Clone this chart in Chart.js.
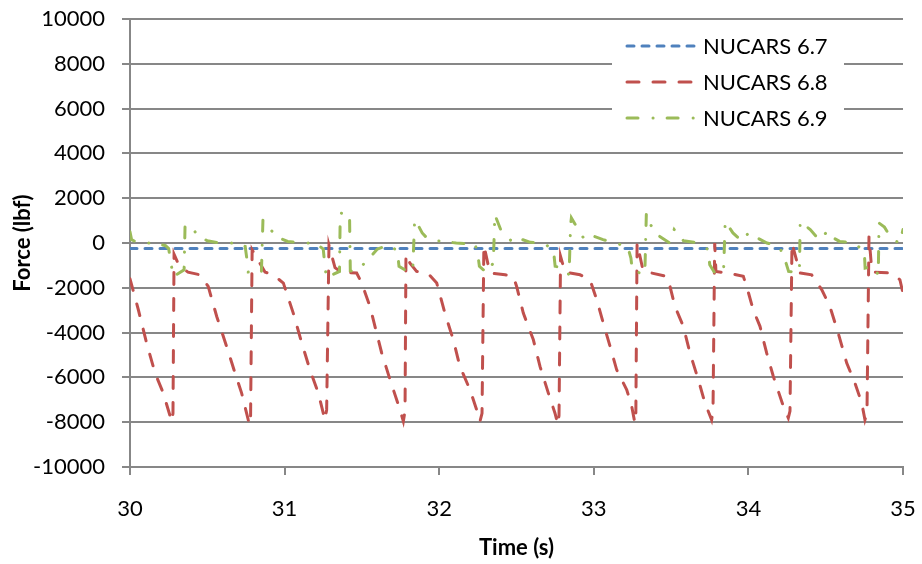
<!DOCTYPE html>
<html>
<head>
<meta charset="utf-8">
<script src="https://cdn.jsdelivr.net/npm/chart.js@4/dist/chart.umd.min.js"></script>
<style>
  html, body { margin: 0; padding: 0; background: #fff; }
  #wrap { width: 922px; height: 564px; }
</style>
</head>
<body>
<div id="wrap"><canvas id="grafico" width="922" height="564"></canvas></div>
<script>
// series names
const nomes = ['NUCARS 6.7', 'NUCARS 6.8', 'NUCARS 6.9'];

// NUCARS 6.7 - practically constant
const azul_t = [30, 35];
const azul_v = [-250, -250];

// NUCARS 6.8 - saw tooth, one line per cycle
const verm_t = [
  30.000, 30.054, 30.108, 30.162, 30.215, 30.270,
  30.278, 30.285, 30.317, 30.375, 30.453, 30.506, 30.561, 30.625, 30.679, 30.722, 30.765, 30.774,
  30.780, 30.790, 30.873, 30.927, 30.992, 31.056, 31.111, 31.164, 31.218, 31.261,
  31.272, 31.287, 31.326, 31.369, 31.466, 31.499, 31.552, 31.628, 31.682, 31.746, 31.768,
  31.779, 31.785, 31.811, 31.854, 31.929, 31.984, 32.037, 32.091, 32.134, 32.199, 32.242, 32.264,
  32.277, 32.289, 32.328, 32.426, 32.479, 32.501, 32.544, 32.609, 32.652, 32.706, 32.749, 32.768,
  32.775, 32.785, 32.814, 32.911, 32.975, 33.019, 33.061, 33.105, 33.148, 33.213, 33.245, 33.266,
  33.272, 33.280, 33.320, 33.374, 33.471, 33.493, 33.525, 33.579, 33.622, 33.676, 33.719, 33.762,
  33.771, 33.782, 33.790, 33.866, 33.967, 33.989, 34.031, 34.075, 34.118, 34.161, 34.226, 34.258,
  34.269, 34.282, 34.333, 34.409, 34.474, 34.527, 34.581, 34.636, 34.689, 34.733, 34.754,
  34.767, 34.780, 34.799, 34.927, 34.980, 35.000
];
const verm_v = [
  -1600, -2980, -4480, -5800, -6700, -7970,
  -7600, -500, -1000, -1300, -1420, -1940, -3280, -4620, -5800, -6700, -7900, -8120,
  -7700, -300, -1300, -1420, -1790, -3130, -4460, -5660, -6700, -7900,
  -7450, -100, -1100, -1300, -1340, -1790, -2830, -4910, -6100, -7440, -7960,
  -7500, -500, -900, -1270, -1370, -1790, -3130, -4320, -5510, -6550, -7440, -7960,
  -7600, -100, -1340, -1420, -1490, -1940, -3130, -4320, -5510, -6700, -7600, -8110,
  -7700, -600, -1300, -1420, -1640, -2530, -3570, -4610, -5660, -6550, -7290, -8040,
  -7600, 0, -1270, -1340, -1490, -1940, -2830, -3720, -4910, -6100, -7140, -7890,
  -7500, 0, -1270, -1340, -1490, -1940, -2980, -3720, -4910, -5950, -7290, -7810,
  -7500, 0, -1340, -1420, -2080, -2830, -4020, -5360, -6250, -7140, -7890,
  -7600, 300, -1300, -1340, -1640, -2240
];

// NUCARS 6.9 - oscillation around zero
const verde_t = [
  30.000, 30.010, 30.054, 30.150, 30.230, 30.250, 30.265, 30.280, 30.350, 30.356,
  30.400, 30.430, 30.500, 30.580, 30.690, 30.745, 30.755, 30.765, 30.850, 30.860,
  30.890, 30.940, 31.020, 31.110, 31.200, 31.250, 31.260, 31.270, 31.355, 31.360,
  31.420, 31.425, 31.460, 31.530, 31.600, 31.680, 31.730, 31.740, 31.810, 31.830,
  31.840, 31.845, 31.890, 31.930, 32.020, 32.110, 32.190, 32.230, 32.250, 32.260,
  32.310, 32.350, 32.360, 32.400, 32.470, 32.510, 32.590, 32.680, 32.740, 32.750,
  32.810, 32.840, 32.850, 32.855, 32.900, 32.940, 33.000, 33.060, 33.140, 33.220,
  33.240, 33.250, 33.330, 33.340, 33.360, 33.410, 33.490, 33.520, 33.580, 33.680,
  33.740, 33.750, 33.790, 33.840, 33.850, 33.900, 33.960, 34.000, 34.060, 34.120,
  34.200, 34.240, 34.260, 34.330, 34.335, 34.400, 34.460, 34.510, 34.530, 34.590,
  34.690, 34.750, 34.755, 34.810, 34.840, 34.845, 34.880, 34.930, 34.980, 35.000
];
const verde_v = [
  500, 150, 0, 0, -120, -250, -900, -1500, -1200, 740,
  800, 370, 100, 0, 0, -150, -660, -1300, -1300, 1040,
  820, 300, 70, 0, 0, -270, -970, -1550, -1270, 1340,
  1260, -1240, -1270, -820, -270, -80, -375, -1040, -1340, -1040,
  820, 1040, 450, 150, 70, 0, -40, 0, -520, -1040,
  -1340, -880, 1260, 560, 70, 220, 30, 0, -375, -1040,
  -1120, -1420, 820, 1120, 600, 150, 300, 150, 0, -180,
  -670, -1270, -1370, 1340, 890, 370, 0, 600, 100, 0,
  -300, -970, -1420, -1120, 960, 450, 70, 450, 220, 0,
  -150, -820, -1270, -1310, 960, 600, 120, 520, 300, 70,
  0, -420, -1120, -1040, -1420, 890, 710, 150, 0, 600
];

// axes
const x_min = 30, x_max = 35, x_passo = 1;
const y_min = -10000, y_max = 10000, y_passo = 2000;

function pontos(ts, vs) {
    return ts.map(function(t, i) { return { x: t, y: vs[i] }; });
}

const cor_grade = '#878787';
const fonte = 'Lato, Carlito, "Noto Sans", sans-serif';

// legend drawn by hand (white box over the grid lines)
const legenda_excel = {
    id: 'legenda_excel',
    afterDraw(chart) {
        const ctx = chart.ctx;
        ctx.save();
        ctx.fillStyle = '#ffffff';
        ctx.fillRect(612, 28, 232, 106);
        const linhas_y = [46, 82, 118];
        chart.data.datasets.forEach(function(ds, i) {
            const y = linhas_y[i];
            ctx.beginPath();
            ctx.strokeStyle = ds.borderColor;
            ctx.lineWidth = ds.borderWidth;
            ctx.lineCap = 'round';
            ctx.setLineDash(ds.borderDash);
            ctx.moveTo(627, y);
            ctx.lineTo(694, y);
            ctx.stroke();
            ctx.setLineDash([]);
            ctx.fillStyle = '#000';
            ctx.font = '22px ' + fonte;
            ctx.textBaseline = 'middle';
            ctx.textAlign = 'left';
            ctx.fillText(ds.label, 703, y + 1);
        });
        ctx.restore();
    }
};

const dados = {
    datasets: [
        {
            label: nomes[0],
            data: pontos(azul_t, azul_v),
            borderColor: '#4F81BD',
            borderWidth: 3,
            borderDash: [7, 8],
            borderCapStyle: 'round',
            order: 3
        },
        {
            label: nomes[1],
            data: pontos(verm_t, verm_v),
            borderColor: '#C0504D',
            borderWidth: 3,
            borderDash: [12, 14],
            borderCapStyle: 'round',
            order: 2
        },
        {
            label: nomes[2],
            data: pontos(verde_t, verde_v),
            borderColor: '#9BBB59',
            borderWidth: 3,
            borderDash: [11, 15, 0.1, 14],
            borderCapStyle: 'round',
            order: 1
        }
    ]
};

const opcoes = {
    responsive: false,
    animation: false,
    devicePixelRatio: 1,
    layout: { padding: { top: 19, right: 19, left: 0, bottom: 0 } },
    elements: {
        point: { radius: 0 },
        line: { tension: 0, fill: false }
    },
    plugins: {
        legend: { display: false },
        tooltip: { enabled: false }
    },
    scales: {
        x: {
            type: 'linear',
            min: x_min,
            max: x_max,
            afterFit: function(s) {
                s.height = 97;
                s.paddingLeft = 0;
                s.paddingRight = 0;
            },
            ticks: {
                stepSize: x_passo,
                color: '#000',
                padding: 21,
                maxRotation: 0,
                callback: function(v) { return String(v); },
                font: { family: fonte, size: 22 }
            },
            grid: {
                drawOnChartArea: false,
                drawTicks: true,
                tickLength: 8,
                color: cor_grade,
                lineWidth: 2
            },
            border: { color: cor_grade, width: 2 },
            title: {
                display: true,
                text: 'Time (s)',
                color: '#000',
                padding: { top: 0, bottom: 3 },
                font: { family: fonte, size: 22, weight: 'bold' }
            }
        },
        y: {
            min: y_min,
            max: y_max,
            afterFit: function(s) {
                s.width = 130;
                s.paddingTop = 0;
                s.paddingBottom = 0;
            },
            ticks: {
                stepSize: y_passo,
                color: '#000',
                padding: 17,
                callback: function(v) { return String(v); },
                font: { family: fonte, size: 22 }
            },
            grid: {
                color: cor_grade,
                lineWidth: 2,
                tickLength: 8
            },
            border: { color: cor_grade, width: 2 },
            title: {
                display: true,
                text: 'Force (lbf)',
                color: '#000',
                padding: { top: 10, bottom: 0 },
                font: { family: fonte, size: 22, weight: 'bold' }
            }
        }
    }
};

new Chart(document.querySelector('#grafico'), {
    type: 'line',
    data: dados,
    options: opcoes,
    plugins: [legenda_excel]
});
</script>
</body>
</html>
